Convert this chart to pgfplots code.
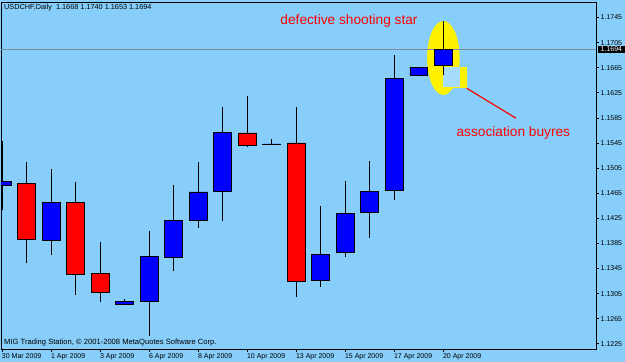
\documentclass[border=0pt]{standalone}
\usepackage{fontspec}
\setmainfont{Liberation Sans}
\usepackage{pgfplots}
\usepackage{pgfplotstable}
\pgfplotsset{compat=1.18}
\definecolor{bg}{HTML}{87CEFA}
\definecolor{notch}{HTML}{A6DCFA}
\definecolor{pline}{HTML}{7F8C99}

\pgfplotstableread{
i o h l c
0 1.1477 1.1548 1.1438 1.1483
1 1.1481 1.1514 1.1353 1.1392
2 1.1390 1.1503 1.1367 1.1450
3 1.1450 1.1483 1.1303 1.1336
4 1.1337 1.1387 1.1292 1.1307
5 1.1288 1.1296 1.1288 1.1292
6 1.1292 1.1404 1.1237 1.1364
7 1.1362 1.1478 1.1341 1.1422
8 1.1422 1.1515 1.1410 1.1467
9 1.1468 1.1603 1.1421 1.1562
10 1.1561 1.1620 1.1538 1.1541
11 1.1543 1.1552 1.1543 1.15435
12 1.1545 1.1603 1.1300 1.1324
13 1.1326 1.1445 1.1316 1.1368
14 1.1370 1.1484 1.1364 1.1433
15 1.1435 1.1516 1.1394 1.1468
16 1.1470 1.1685 1.1454 1.1648
17 1.1653 1.1666 1.1653 1.1666
18 1.1668 1.1740 1.1653 1.1694
}\ohlc

\begin{document}
\begin{tikzpicture}
\fill[bg] (0,0) rectangle (625pt,362pt);
\pgfplotsset{
  common/.style={
    at={(1pt,13pt)}, anchor=south west,
    width=595pt, height=347pt, scale only axis,
    xmin=-0.053, xmax=24.23, ymin=1.12167, ymax=1.17697,
  }
}
% axis 1: frame, ticks, annotations, wicks
\begin{axis}[common,
  clip=false,
  axis line style={black, line width=0.8pt},
  xtick={0,2,4,6,8,10,12,14,16,18},
  xticklabels={30 Mar 2009, 1 Apr 2009, 3 Apr 2009, 6 Apr 2009, 8 Apr 2009, 10 Apr 2009, 13 Apr 2009, 15 Apr 2009, 17 Apr 2009, 20 Apr 2009},
  ytick={1.1225,1.1265,1.1305,1.1345,1.1385,1.1425,1.1465,1.1505,1.1545,1.1585,1.1625,1.1665,1.1705,1.1745},
  scaled y ticks=false,
  yticklabel={\pgfmathprintnumber[fixed,fixed zerofill,precision=4,assume math mode=true]{\tick}},
  xtick pos=left, ytick pos=right,
  tick align=outside, major tick length=3pt,
  tick style={black, line width=0.6pt},
  ticklabel style={font=\fontsize{7}{8}\selectfont, text=black},
  xticklabel style={anchor=north west, inner xsep=0pt, inner ysep=1.5pt, xshift=-0.5pt},
  yticklabel style={anchor=west, inner xsep=1.5pt},
]
% yellow highlight
\fill[yellow] (axis cs:18,1.16805) ellipse [x radius=16.3pt, y radius=37pt];
\fill[yellow] (axis cs:18.34,1.16322) rectangle (axis cs:18.98,1.16666);
\fill[notch] (axis cs:17.976,1.16338) rectangle (axis cs:18.69,1.16666);
% current price line
\draw[pline, line width=0.8pt] (axis cs:-0.053,1.1694) -- (axis cs:24.23,1.1694);
\coordinate (pricept) at (axis cs:24.23,1.1694);
% wicks
\addplot[draw=none, no markers,
  error bars/.cd, y dir=plus, y explicit, error mark=none,
  error bar style={draw=black, solid, line width=0.9pt}]
  table[x=i, y=l, y error expr=\thisrow{h}-\thisrow{l}] {\ohlc};
% annotations
\draw[red, line width=1.2pt] (axis cs:18.955,1.16322) -- (axis cs:20.967,1.15844);
\node[red, font=\fontsize{13.7}{16}\selectfont] at (axis cs:14.15,1.17394) {defective shooting star};
\node[red, font=\fontsize{13.7}{16}\selectfont] at (axis cs:20.857,1.15614) {association buyres};
\end{axis}
% axis 2: candle bodies
\begin{axis}[common, hide axis, ybar stacked, bar width=0.73]
\addplot[draw=none, fill=none] table[x=i, y expr={min(\thisrow{o},\thisrow{c})}] {\ohlc};
\addplot[draw=black, fill=blue, line width=0.8pt] table[x=i, y expr={max(\thisrow{c}-\thisrow{o},0)}] {\ohlc};
\addplot[draw=black, fill=red, line width=0.8pt] table[x=i, y expr={max(\thisrow{o}-\thisrow{c},0)}] {\ohlc};
\end{axis}
\node[anchor=west, font=\fontsize{7.3}{8}\selectfont, inner sep=0pt] at (4pt,354pt) {USDCHF,Daily\ \ 1.1668 1.1740 1.1653 1.1694};
\node[anchor=west, font=\fontsize{7.6}{8}\selectfont, inner sep=0pt] at (4pt,19.3pt) {MIG Trading Station, © 2001-2008 MetaQuotes Software Corp.};
\node[fill=black, text=white, anchor=west, inner xsep=2.5pt, inner ysep=0.6pt, font=\fontsize{7}{8}\selectfont, xshift=2pt] at (pricept) {1.1694};
\pgfresetboundingbox
\path[use as bounding box] (0,0) rectangle (625pt,362pt);
\end{tikzpicture}
\end{document}
